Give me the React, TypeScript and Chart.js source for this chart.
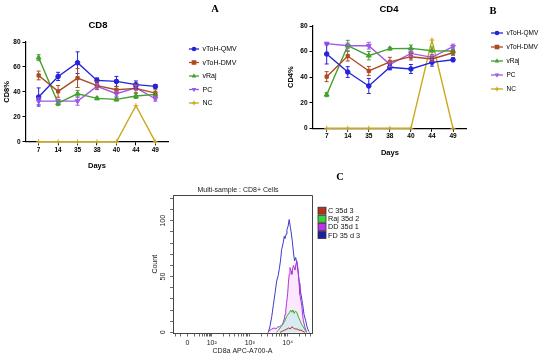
import React, { useEffect, useRef } from "react";
import { Chart, registerables } from "chart.js";
Chart.register(...registerables);

const FONT = "'Liberation Sans', Arial, Helvetica, sans-serif";

// ---------- Panels A / B data ----------
const days = ["7", "14", "35", "38", "40", "44", "49"];
const seriesNames = ["vToH-QMV", "vToH-DMV", "vRaj", "PC", "NC"];
const seriesColors = ["#2424dc", "#ad4a22", "#44a030", "#a05ae6", "#cba81e"];
const seriesMarkers = ["circle", "rect", "triangle", "tridown", "cross"];

const cd8QMV = [35.9, 52.4, 63.4, 49.2, 48.4, 45.8, 44.4];
const cd8DMV = [53.2, 40.4, 51.1, 45.0, 41.7, 42.8, 39.0];
const cd8Raj = [67.4, 31.0, 38.5, 34.8, 34.0, 36.7, 38.0];
const cd8PC = [32.6, 32.6, 32.6, 44.4, 38.5, 43.3, 34.5];
const cd8NC = [0, 0, 0, 0, 0, 28.9, 0];
const cd8QMVErr = [7.3, 3.3, 8.7, 2, 4, 3, 1.5];
const cd8DMVErr = [3.5, 4.7, 7.6, 3.2, 2.7, 3.5, 2.7];
const cd8RajErr = [2.4, 2, 2.7, 1, 1.3, 2, 1.6];
const cd8PCErr = [2.7, 1.5, 3.3, 2, 2, 2, 1.9];
const cd8NCErr = [0, 0, 0, 0, 0, 0, 0];

const cd4QMV = [58.1, 44.0, 33.1, 47.7, 46.4, 51.6, 53.6];
const cd4DMV = [40.4, 56.5, 44.8, 51.9, 56.0, 54.2, 59.1];
const cd4Raj = [26.3, 64.6, 56.8, 62.3, 62.5, 60.7, 60.5];
const cd4PC = [66.2, 64.6, 64.6, 50.0, 58.6, 55.5, 63.8];
const cd4NC = [0, 0, 0, 0, 0, 69, 0];
const cd4QMVErr = [7.8, 4.2, 5.9, 2, 3.5, 3, 1.5];
const cd4DMVErr = [3.9, 3.9, 3.6, 3.6, 2.6, 2, 2];
const cd4RajErr = [1.6, 4.2, 3.3, 1, 2.6, 3, 1.5];
const cd4PCErr = [1, 2, 2.6, 2, 2.6, 2, 2];
const cd4NCErr = [0, 0, 0, 0, 0, 0, 0];

const percentTicks = [0, 20, 40, 60, 80];

// ---------- Panel C data ----------
const flowNames = ["C 35d 3", "Raj 35d 2", "DD 35d 1", "FD 35 d 3"];
const flowColors = ["#b4321e", "#3cb428", "#b232e0", "#3c3cc8"];
const flowBoxColors = ["#b4321e", "#3cd23c", "#c032f0", "#1e1ea0"];

const cX = [3.80, 3.86, 3.92, 3.98, 4.03, 4.07, 4.11, 4.15, 4.20, 4.25, 4.30, 4.35, 4.40, 4.45];
const cY = [0, 1, 2, 3, 4, 3, 5, 4, 3, 3, 2, 2, 1, 0];
const rajX = [3.70, 3.76, 3.82, 3.87, 3.92, 3.97, 4.01, 4.05, 4.08, 4.11, 4.14, 4.17, 4.20, 4.24, 4.28, 4.32, 4.37, 4.41, 4.46, 4.50];
const rajY = [0, 2, 5, 7, 10, 14, 16, 18, 20, 18, 20, 17, 19, 18, 14, 11, 7, 5, 2, 0];
const ddX = [3.48, 3.53, 3.58, 3.64, 3.69, 3.74, 3.78, 3.82, 3.86, 3.88, 3.91, 3.93, 3.95, 3.97, 4.00, 4.02, 4.04, 4.06, 4.09, 4.11, 4.13, 4.15, 4.17, 4.19, 4.22, 4.24, 4.26, 4.28, 4.30, 4.32, 4.35, 4.37, 4.41, 4.45, 4.50];
const ddY = [0, 2, 3, 4, 3, 5, 5, 6, 7, 9, 12, 16, 20, 26, 35, 45, 52, 58, 55, 52, 57, 60, 58, 56, 62, 64, 60, 54, 44, 34, 28, 24, 11, 5, 0];
const fdX = [3.49, 3.53, 3.58, 3.62, 3.67, 3.71, 3.75, 3.78, 3.81, 3.84, 3.88, 3.91, 3.93, 3.96, 3.98, 4.01, 4.04, 4.07, 4.09, 4.12, 4.15, 4.18, 4.21, 4.24, 4.27, 4.30, 4.34, 4.39, 4.43, 4.47, 4.51, 4.55, 4.58];
const fdY = [0, 5, 14, 24, 36, 46, 51, 57, 64, 74, 80, 86, 84, 88, 92, 95, 101, 94, 90, 82, 72, 64, 67, 62, 55, 46, 36, 26, 16, 11, 5, 1, 0];

const flowMajorTicks = [1.36, 2, 3, 4];
const flowMajorLabels = ["0", "10²", "10³", "10⁴"];
const flowYTicks = [0, 10, 20, 30, 40, 50, 60, 70, 80, 90, 100, 110, 120];
const flowYLabels = [0, 50, 100];

// minor tick positions of the biexponential axis (axis decoration)
function flowMinorTicks(): number[] {
  const out: number[] = [];
  for (let k = 1; k <= 2; k++) out.push(1.36 - 0.64 * Math.log10(1 + k));
  for (let k = 1; k <= 8; k++) out.push(1.36 + 0.64 * Math.log10(1 + k));
  for (const n of [2, 3, 4]) for (let k = 2; k <= 9; k++) {
    const u = n + Math.log10(k);
    if (u < 4.63) out.push(u);
  }
  return out;
}

// ---------- helpers ----------
function drawMarker(ctx: CanvasRenderingContext2D, style: string, x: number, y: number, r: number, color: string) {
  ctx.save();
  ctx.fillStyle = color;
  ctx.strokeStyle = color;
  ctx.lineWidth = 1.2;
  ctx.beginPath();
  if (style === "circle") { ctx.arc(x, y, r, 0, Math.PI * 2); ctx.fill(); }
  else if (style === "rect") { ctx.fillRect(x - r, y - r, 2 * r, 2 * r); }
  else if (style === "triangle") { ctx.moveTo(x, y - r * 1.15); ctx.lineTo(x + r, y + r * 0.7); ctx.lineTo(x - r, y + r * 0.7); ctx.closePath(); ctx.fill(); }
  else if (style === "tridown") { ctx.moveTo(x, y + r * 1.15); ctx.lineTo(x + r, y - r * 0.7); ctx.lineTo(x - r, y - r * 0.7); ctx.closePath(); ctx.fill(); }
  else { ctx.moveTo(x - r, y); ctx.lineTo(x + r, y); ctx.moveTo(x, y - r); ctx.lineTo(x, y + r); ctx.stroke(); }
  ctx.restore();
}

const errorBarPlugin = {
  id: "errbars",
  afterDatasetsDraw(chart: any) {
    const ctx = chart.ctx;
    const ys = chart.scales.y;
    chart.data.datasets.forEach((ds: any, i: number) => {
      if (!ds.errors) return;
      const meta = chart.getDatasetMeta(i);
      ctx.save();
      ctx.strokeStyle = ds.borderColor;
      ctx.lineWidth = 1;
      meta.data.forEach((pt: any, j: number) => {
        const e = ds.errors[j];
        if (!e) return;
        const v = ds.data[j].y;
        const y1 = ys.getPixelForValue(v + e);
        const y2 = ys.getPixelForValue(v - e);
        ctx.beginPath();
        ctx.moveTo(pt.x, y1); ctx.lineTo(pt.x, y2);
        ctx.moveTo(pt.x - 2, y1); ctx.lineTo(pt.x + 2, y1);
        ctx.moveTo(pt.x - 2, y2); ctx.lineTo(pt.x + 2, y2);
        ctx.stroke();
      });
      ctx.restore();
    });
  },
};

function decorPlugin(o: { title: string; titleX: number; titleY: number; lx: number; ly: number; lstep: number; lhalf: number; lfont: number }) {
  return {
    id: "decor",
    afterDraw(chart: any) {
      const ctx = chart.ctx;
      ctx.save();
      ctx.fillStyle = "#000";
      ctx.font = `bold 9.5px ${FONT}`;
      ctx.textAlign = "center";
      ctx.textBaseline = "middle";
      ctx.fillText(o.title, o.titleX, o.titleY);
      ctx.font = `${o.lfont}px ${FONT}`;
      ctx.textAlign = "left";
      chart.data.datasets.forEach((ds: any, i: number) => {
        const y = o.ly + i * o.lstep;
        ctx.strokeStyle = ds.borderColor;
        ctx.lineWidth = 1.3;
        ctx.beginPath();
        ctx.moveTo(o.lx - o.lhalf, y);
        ctx.lineTo(o.lx + o.lhalf, y);
        ctx.stroke();
        drawMarker(ctx, seriesMarkers[i], o.lx, y, 2.3, ds.borderColor);
        ctx.fillStyle = "#000";
        ctx.fillText(ds.label, o.lx + o.lhalf + 3.5, y + 0.5);
      });
      ctx.restore();
    },
  };
}

function lineConfig(values: number[][], errors: number[][], yTitle: string, p: any) {
  const datasets = values.map((vals, i) => ({
    label: seriesNames[i],
    data: vals.map((v, j) => ({ x: j, y: v })),
    errors: errors[i],
    borderColor: seriesColors[i],
    backgroundColor: seriesColors[i],
    pointBackgroundColor: seriesColors[i],
    pointBorderColor: seriesColors[i],
    borderWidth: 1.4,
    pointStyle: seriesMarkers[i] === "tridown" ? "triangle" : seriesMarkers[i],
    pointRotation: seriesMarkers[i] === "tridown" ? 180 : 0,
    pointRadius: seriesMarkers[i] === "cross" ? 2.5 : seriesMarkers[i] === "triangle" || seriesMarkers[i] === "tridown" ? 2.8 : 2.3,
    pointBorderWidth: 1,
    tension: 0,
    clip: false,
  }));
  const axisFont = { family: FONT, size: 6.5, weight: "bold" as const };
  return {
    type: "line" as const,
    data: { datasets },
    options: {
      animation: false,
      responsive: false,
      maintainAspectRatio: false,
      layout: { padding: p.padding },
      plugins: { legend: { display: false }, tooltip: { enabled: false } },
      scales: {
        x: {
          type: "linear",
          min: -0.65,
          max: 6.65,
          afterBuildTicks: (s: any) => { s.ticks = days.map((_, i) => ({ value: i })); },
          afterFit: (s: any) => { s.height = p.xHeight; },
          ticks: { callback: (v: any) => days[Math.round(v)], font: axisFont, color: "#000", padding: 1, maxRotation: 0, autoSkip: false },
          grid: { display: true, drawOnChartArea: false, drawTicks: true, tickLength: 3.5, color: "#000", lineWidth: 1 },
          border: { display: true, color: "#000", width: 1.2 },
          title: { display: true, text: "Days", color: "#000", font: { family: FONT, size: 7.5, weight: "bold" }, padding: { top: 0, bottom: p.xTitlePad } },
        },
        y: {
          type: "linear",
          min: 0,
          max: 80,
          afterBuildTicks: (s: any) => { s.ticks = percentTicks.map((v) => ({ value: v })); },
          afterFit: (s: any) => { s.width = p.yWidth; },
          ticks: { font: axisFont, color: "#000", padding: 2 },
          grid: { display: true, drawOnChartArea: false, drawTicks: true, tickLength: 3.5, color: "#000", lineWidth: 1 },
          border: { display: true, color: "#000", width: 1.2 },
          title: { display: true, text: yTitle, color: "#000", font: { family: FONT, size: 7.5, weight: "bold" }, padding: { top: p.yTitlePad, bottom: 0 } },
        },
      },
    },
    plugins: [errorBarPlugin, decorPlugin(p.decor)],
  };
}

const flowDecor = {
  id: "flowdecor",
  afterDraw(chart: any) {
    const ctx = chart.ctx;
    const a = chart.chartArea;
    ctx.save();
    ctx.strokeStyle = "#444";
    ctx.lineWidth = 1;
    ctx.beginPath();
    ctx.moveTo(a.left, a.top + 0.5);
    ctx.lineTo(a.right + 0.5, a.top + 0.5);
    ctx.lineTo(a.right + 0.5, a.bottom);
    ctx.stroke();
    ctx.fillStyle = "#222";
    ctx.font = `7px ${FONT}`;
    ctx.textAlign = "center";
    ctx.textBaseline = "middle";
    ctx.fillText("Multi-sample : CD8+ Cells", 98, 20);
    const ys = chart.scales.y;
    flowYLabels.forEach((v) => {
      ctx.save();
      ctx.translate(a.left - 9.7, ys.getPixelForValue(v));
      ctx.rotate(-Math.PI / 2);
      ctx.fillText(String(v), 0, 0);
      ctx.restore();
    });
    ctx.textAlign = "left";
    ctx.font = `7.3px ${FONT}`;
    flowNames.forEach((n, i) => {
      const y = 40.7 + i * 8.1;
      ctx.fillStyle = flowBoxColors[i];
      ctx.fillRect(178, y - 3.5, 8, 7);
      ctx.strokeStyle = "#333";
      ctx.lineWidth = 0.8;
      ctx.strokeRect(178, y - 3.5, 8, 7);
      ctx.fillStyle = "#111";
      ctx.fillText(n, 188, y + 0.5);
    });
    ctx.restore();
  },
};

function flowConfig() {
  const sets = [
    { x: cX, y: cY, fill: false, bg: "transparent" },
    { x: rajX, y: rajY, fill: "origin", bg: "rgba(175,238,238,0.45)" },
    { x: ddX, y: ddY, fill: "origin", bg: "rgba(248,205,248,0.45)" },
    { x: fdX, y: fdY, fill: false, bg: "transparent" },
  ];
  const minor = flowMinorTicks();
  const small = { family: FONT, size: 7 };
  return {
    type: "line" as const,
    data: {
      datasets: sets.map((s, i) => ({
        label: flowNames[i],
        data: s.x.map((x, j) => ({ x, y: s.y[j] })),
        borderColor: flowColors[i],
        backgroundColor: s.bg,
        fill: s.fill,
        borderWidth: 1,
        pointRadius: 0,
        tension: 0,
      })),
    },
    options: {
      animation: false,
      responsive: false,
      maintainAspectRatio: false,
      layout: { padding: { left: 0, top: 25, right: 88, bottom: 0 } },
      plugins: { legend: { display: false }, tooltip: { enabled: false }, filler: { drawTime: "beforeDatasetsDraw" } },
      scales: {
        x: {
          type: "linear",
          min: 0.98,
          max: 4.64,
          afterBuildTicks: (s: any) => {
            s.ticks = [...flowMajorTicks, ...minor].sort((p, q) => p - q).map((v) => ({ value: v }));
          },
          afterFit: (s: any) => { s.height = 25.5; },
          ticks: {
            autoSkip: false,
            maxRotation: 0,
            color: "#222",
            font: small,
            padding: 2,
            callback: (v: any) => {
              const k = flowMajorTicks.findIndex((m) => Math.abs(m - v) < 1e-6);
              return k >= 0 ? flowMajorLabels[k] : "";
            },
          },
          grid: { display: true, drawOnChartArea: false, drawTicks: true, tickLength: 3, color: "#444", lineWidth: 0.8 },
          border: { display: true, color: "#444", width: 1 },
          title: { display: true, text: "CD8a APC-A700-A", color: "#222", font: small, padding: { top: 0, bottom: 3.3 } },
        },
        y: {
          type: "linear",
          min: -1,
          max: 123,
          afterBuildTicks: (s: any) => { s.ticks = flowYTicks.map((v) => ({ value: v })); },
          afterFit: (s: any) => { s.width = 33; },
          ticks: { callback: () => "", font: small },
          grid: { display: true, drawOnChartArea: false, drawTicks: true, tickLength: 3, color: "#444", lineWidth: 0.8 },
          border: { display: true, color: "#444", width: 1 },
          title: { display: true, text: "Count", color: "#222", font: small, padding: { top: 10.8, bottom: 0 } },
        },
      },
    },
    plugins: [flowDecor],
  };
}

const panelLabel = (x: number, y: number): React.CSSProperties => ({
  position: "absolute",
  left: x,
  top: y,
  transform: "translate(-50%, -50%)",
  font: "bold 10.5px 'Liberation Serif', 'Times New Roman', serif",
  color: "#000",
  lineHeight: "12px",
});

export default function App() {
  const refA = useRef<HTMLCanvasElement>(null);
  const refB = useRef<HTMLCanvasElement>(null);
  const refC = useRef<HTMLCanvasElement>(null);

  useEffect(() => {
    const a = new Chart(
      refA.current as HTMLCanvasElement,
      lineConfig([cd8QMV, cd8DMV, cd8Raj, cd8PC, cd8NC], [cd8QMVErr, cd8DMVErr, cd8RajErr, cd8PCErr, cd8NCErr], "CD8%", {
        padding: { left: 0, top: 42, right: 82, bottom: 0 },
        xHeight: 33.2,
        yWidth: 26,
        xTitlePad: 4.8,
        yTitlePad: 2.8,
        decor: { title: "CD8", titleX: 98, titleY: 25, lx: 194, ly: 49, lstep: 13.5, lhalf: 5, lfont: 7 },
      }) as any
    );
    const b = new Chart(
      refB.current as HTMLCanvasElement,
      lineConfig([cd4QMV, cd4DMV, cd4Raj, cd4PC, cd4NC], [cd4QMVErr, cd4DMVErr, cd4RajErr, cd4PCErr, cd4NCErr], "CD4%", {
        padding: { left: 0, top: 26, right: 83.3, bottom: 0 },
        xHeight: 36.7,
        yWidth: 43,
        xTitlePad: 7.2,
        yTitlePad: 16.2,
        decor: { title: "CD4", titleX: 119, titleY: 9, lx: 227, ly: 33, lstep: 14, lhalf: 6, lfont: 6.5 },
      }) as any
    );
    const c = new Chart(refC.current as HTMLCanvasElement, flowConfig() as any);
    return () => {
      a.destroy();
      b.destroy();
      c.destroy();
    };
  }, []);

  return (
    <div style={{ position: "absolute", left: 0, top: 0, width: 550, height: 359, background: "#fff", overflow: "hidden" }}>
      <canvas ref={refA} width={250} height={175} style={{ position: "absolute", left: 0, top: 0, width: 250, height: 175 }} />
      <canvas ref={refB} width={280} height={165} style={{ position: "absolute", left: 270, top: 0, width: 280, height: 165 }} />
      <canvas ref={refC} width={260} height={189} style={{ position: "absolute", left: 140, top: 170, width: 260, height: 189 }} />
      <div style={panelLabel(215, 9)}>A</div>
      <div style={panelLabel(493, 11)}>B</div>
      <div style={panelLabel(340, 177)}>C</div>
    </div>
  );
}
